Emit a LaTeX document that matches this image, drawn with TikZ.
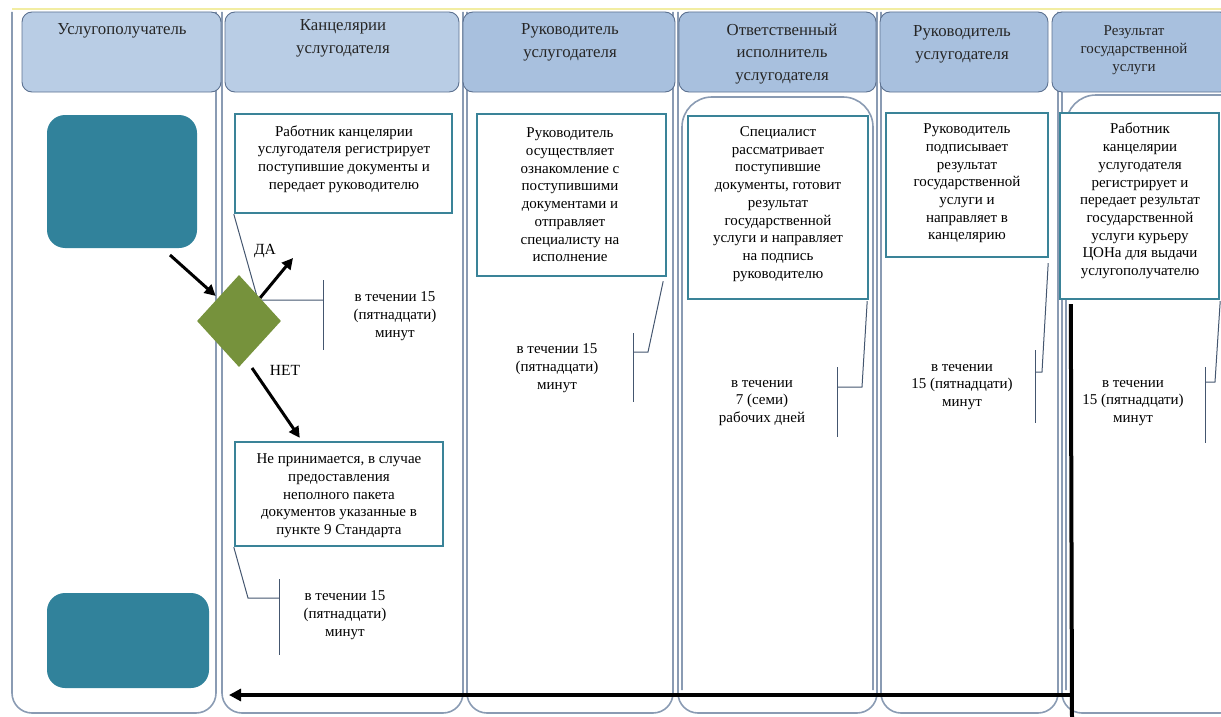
\documentclass[tikz,border=0pt]{standalone}
\usepackage{fontspec}
\setmainfont{Liberation Serif}
\usetikzlibrary{shapes.geometric,arrows.meta,calc}
\definecolor{laneC}{HTML}{8A9BB3}
\definecolor{hdrA}{HTML}{B9CDE5}
\definecolor{hdrB}{HTML}{A8C0DE}
\definecolor{hdrBorder}{HTML}{5C7190}
\definecolor{tealF}{HTML}{31829B}
\definecolor{boxC}{HTML}{3A8398}
\definecolor{calloutC}{HTML}{44566F}
\definecolor{oliveF}{HTML}{76923C}
\definecolor{topY}{HTML}{F2EDA2}
\begin{document}
\begin{tikzpicture}[x=1pt,y=-1pt,
  lane/.style={draw=laneC, line width=1.6pt, rounded corners=20pt},
  hdr/.style={draw=hdrBorder, line width=0.9pt, rounded corners=10pt, inner sep=0pt},
  hdrtxt/.style={font=\fontsize{16.8}{22.7}\selectfont, align=center, text=black!85, inner sep=0pt},
  hdrsmall/.style={font=\fontsize{15}{18}\selectfont, align=center, text=black!85, inner sep=0pt},
  stepbox/.style={draw=boxC, line width=2.4pt, fill=white, inner sep=0pt},
  btxt/.style={font=\fontsize{15}{17.7}\selectfont, align=center, inner sep=0pt},
  call/.style={draw=calloutC, line width=1pt},
  arr/.style={line width=3pt, -{Triangle[length=11pt,width=11pt]}},
  startbox/.style={fill=tealF, rounded corners=18pt, inner sep=0pt},
  lbl/.style={font=\fontsize{15.5}{18}\selectfont, inner sep=0pt}
]
\useasboundingbox (0,0) rectangle (1221,717);
\clip (0,0) rectangle (1221,717);
% top yellow line
\draw[topY, line width=2pt] (12,9) -- (1221,9);
% lanes
\draw[lane] (12,12) -- (12,713) -- (216,713) -- (216,12);
\draw[lane] (222,12) -- (222,713) -- (463,713) -- (463,12);
\draw[lane] (467,12) -- (467,713) -- (673,713) -- (673,12);
\draw[lane] (678,12) -- (678,713) -- (877,713) -- (877,12);
\draw[lane, rounded corners=30pt] (682,690) -- (682,97) -- (873,97) -- (873,690);
\draw[lane] (881,12) -- (881,713) -- (1058,713) -- (1058,12);
\draw[lane] (1062,12) -- (1062,713) -- (1240,713) -- (1240,12);
\draw[lane, rounded corners=30pt] (1066,690) -- (1066,95) -- (1240,95);
% headers
\node[hdr, fill=hdrA, minimum width=199pt, minimum height=80pt] (h1) at (121.5,52) {};
\node[hdr, fill=hdrA, minimum width=234pt, minimum height=80pt] (h2) at (342,52) {};
\node[hdr, fill=hdrB, minimum width=212pt, minimum height=80pt] (h3) at (569,52) {};
\node[hdr, fill=hdrB, minimum width=197pt, minimum height=80pt] (h4) at (777.5,52) {};
\node[hdr, fill=hdrB, minimum width=168pt, minimum height=80pt] (h5) at (964,52) {};
\node[hdr, fill=hdrB, minimum width=178pt, minimum height=80pt] (h6) at (1141,52) {};
\node[hdrtxt] (h1t) at (122,31) {Услугополучатель};
\node[hdrtxt] (h2t) at (343,38.5) {Канцелярии\\услугодателя};
\node[hdrtxt] (h3t) at (570,42) {Руководитель\\услугодателя};
\node[hdrtxt] (h4t) at (782,54) {Ответственный\\исполнитель\\услугодателя};
\node[hdrtxt] (h5t) at (962,44.5) {Руководитель\\услугодателя};
\node[hdrsmall] (h6t) at (1134,50) {Результат\\государственной\\услуги};
% start / end boxes
\node[startbox, minimum width=150pt, minimum height=133pt] (s1) at (122,181.5) {};
\node[startbox, minimum width=162pt, minimum height=95pt] (s2) at (128,640.5) {};
% process boxes
\node[stepbox, minimum width=217pt, minimum height=99pt] (b1) at (343.5,163.5) {};
\node[btxt] (b1t) at (344,159) {Работник канцелярии\\услугодателя регистрирует\\поступившие документы и\\передает руководителю};
\node[stepbox, minimum width=208pt, minimum height=104pt] (bno) at (339,494) {};
\node[btxt] (bnot) at (339,496) {Не принимается, в случае\\предоставления\\неполного пакета\\документов указанные в\\пункте 9 Стандарта};
\node[stepbox, minimum width=189pt, minimum height=162pt] (b3) at (571.5,195) {};
\node[btxt] (b3t) at (570,195) {Руководитель\\осуществляет\\ознакомление с\\поступившими\\документами и\\отправляет\\специалисту на\\исполнение};
\node[stepbox, minimum width=180pt, minimum height=183pt] (b4) at (778,207.5) {};
\node[btxt] (b4t) at (778,204) {Специалист\\рассматривает\\поступившие\\документы, готовит\\результат\\государственной\\услуги и направляет\\на подпись\\руководителю};
\node[stepbox, minimum width=162pt, minimum height=144pt] (b5) at (967,185) {};
\node[btxt] (b5t) at (967,183.5) {Руководитель\\подписывает\\результат\\государственной\\услуги и\\направляет в\\канцелярию};
\node[stepbox, minimum width=159pt, minimum height=186pt] (b6) at (1139.5,206) {};
\node[btxt] (b6t) at (1140,201) {Работник\\канцелярии\\услугодателя\\регистрирует и\\передает результат\\государственной\\услуги курьеру\\ЦОНа для выдачи\\услугополучателю};
% timing texts
\node[btxt] (t1) at (395,316) {в течении 15\\(пятнадцати)\\минут};
\node[btxt] (t2) at (345,615) {в течении 15\\(пятнадцати)\\минут};
\node[btxt] (t3) at (557,368) {в течении 15\\(пятнадцати)\\минут};
\node[btxt] (t4) at (762,403) {в течении\\7 (семи)\\рабочих дней};
\node[btxt] (t5) at (962,387) {в течении\\15 (пятнадцати)\\минут};
\node[btxt] (t6) at (1133,403) {в течении\\15 (пятнадцати)\\минут};
% callouts
\coordinate (c1a) at (258,300); \coordinate (c1b) at (323,300);
\draw[call] (b1.south west) -- (c1a) -- (c1b);
\draw[call] (323,280) -- (323,350);
\coordinate (c2a) at (248,598); \coordinate (c2b) at (279,598);
\draw[call] (bno.south west) -- (c2a) -- (c2b);
\draw[call] (279,579) -- (279,655);
\coordinate (c3a) at (648,352); \coordinate (c3b) at (633,352);
\draw[call] ($(b3.south east)+(-4,4)$) -- (c3a) -- (c3b);
\draw[call] (633,333) -- (633,402);
\coordinate (c4a) at (862,387); \coordinate (c4b) at (837,387);
\draw[call] ($(b4.south east)+(-2,1)$) -- (c4a) -- (c4b);
\draw[call] (837,367) -- (837,437);
\coordinate (c5a) at (1042,372); \coordinate (c5b) at (1035,372);
\draw[call] ($(b5.south east)+(-1,5)$) -- (c5a) -- (c5b);
\draw[call] (1035,350) -- (1035,423);
\coordinate (c6a) at (1215,382); \coordinate (c6b) at (1205,382);
\draw[call] ($(b6.south east)+(0,1)$) -- (c6a) -- (c6b);
\draw[call] (1205,367) -- (1205,443);
% decision
\node[diamond, fill=oliveF, minimum width=84pt, minimum height=92pt, inner sep=0pt] (d) at (239,321) {};
% arrows
\coordinate (a1s) at (170,255);
\draw[arr, shorten >=3pt] (a1s) -- (d.north west);
\coordinate (a2e) at (293,258);
\draw[arr] (d.north east) -- (a2e);
\coordinate (a3s) at (252,368);
\draw[arr] (a3s) -- ($(bno.north west)+(66,-3)$);
\node[lbl] (da) at (265,251) {ДА};
\node[lbl] (net) at (285,370) {НЕТ};
% return line
\coordinate (r1) at ($(b6.south west)+(12,4)$);
\coordinate (r2) at (1072,720);
\coordinate (r3) at (1072,695);
\coordinate (r4) at (229,695);
\draw[line width=4pt] (r1) -- (r2);
\draw[line width=3.5pt, -{Triangle[length=12pt,width=12pt]}] (r3) -- (r4);
\end{tikzpicture}
\end{document}
